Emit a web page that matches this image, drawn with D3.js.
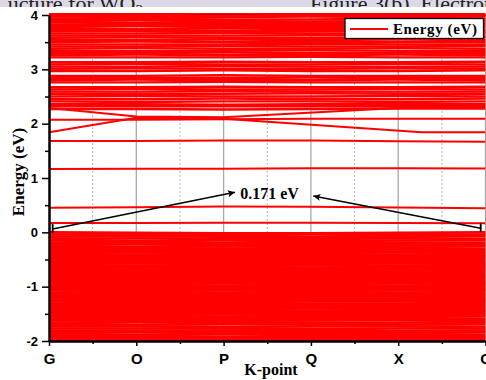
<!DOCTYPE html>
<html><head><meta charset="utf-8">
<script src="https://cdn.jsdelivr.net/npm/d3@7"></script>
<style>body{margin:0;background:#fff;} svg{display:block;}</style>
</head><body>
<svg id="chart" width="486" height="380"></svg>
<script>
// ---------------- data ----------------
const kLabels = ["G","O","P","Q","X","G"];
const kTicks = [0,1,2,3,4,5];
const kMinorTicks = [0.5,1.5,2.5,3.5,4.5];
const kSolidGrid = [1,2,3,4,5];
const yTicks = [-2,-1,0,1,2,3,4];
const yMinorTicks = [-1.5,-0.5,0.5,1.5,2.5,3.5];

// valence bands: energy (eV) at G,O,P,Q,X,G
const valenceBands = [
[0.00,-0.01,-0.02,-0.02,-0.01,0.00],
[-0.04,-0.04,-0.05,-0.04,-0.05,-0.04],
[-0.08,-0.07,-0.08,-0.09,-0.08,-0.07],
[-0.12,-0.11,-0.12,-0.12,-0.11,-0.12],
[-0.15,-0.16,-0.15,-0.16,-0.15,-0.15],
[-0.19,-0.19,-0.20,-0.19,-0.19,-0.20],
[-0.23,-0.22,-0.23,-0.23,-0.24,-0.23],
[-0.27,-0.27,-0.26,-0.27,-0.27,-0.26],
[-0.31,-0.30,-0.30,-0.31,-0.30,-0.31],
[-0.34,-0.34,-0.35,-0.34,-0.34,-0.34],
[-0.38,-0.37,-0.38,-0.38,-0.37,-0.38],
[-0.41,-0.41,-0.41,-0.42,-0.41,-0.41],
[-0.44,-0.45,-0.44,-0.44,-0.45,-0.44],
[-0.48,-0.48,-0.47,-0.48,-0.48,-0.47],
[-0.51,-0.51,-0.51,-0.51,-0.51,-0.51],
[-0.54,-0.54,-0.55,-0.54,-0.54,-0.55],
[-0.58,-0.57,-0.58,-0.58,-0.57,-0.58],
[-0.61,-0.61,-0.61,-0.61,-0.61,-0.61],
[-0.64,-0.64,-0.64,-0.65,-0.64,-0.64],
[-0.67,-0.68,-0.67,-0.68,-0.68,-0.67],
[-0.71,-0.71,-0.71,-0.71,-0.71,-0.71],
[-0.74,-0.74,-0.74,-0.74,-0.75,-0.74],
[-0.77,-0.78,-0.77,-0.78,-0.78,-0.78],
[-0.81,-0.81,-0.81,-0.81,-0.81,-0.81],
[-0.84,-0.84,-0.84,-0.84,-0.84,-0.84],
[-0.87,-0.88,-0.87,-0.88,-0.87,-0.88],
[-0.91,-0.91,-0.91,-0.91,-0.91,-0.91],
[-0.94,-0.94,-0.94,-0.94,-0.94,-0.94],
[-0.97,-0.97,-0.98,-0.97,-0.98,-0.97],
[-1.01,-1.01,-1.01,-1.01,-1.01,-1.01],
[-1.04,-1.04,-1.04,-1.04,-1.04,-1.04],
[-1.07,-1.07,-1.07,-1.08,-1.07,-1.07],
[-1.11,-1.10,-1.11,-1.11,-1.11,-1.10],
[-1.14,-1.14,-1.14,-1.14,-1.14,-1.14],
[-1.17,-1.17,-1.17,-1.17,-1.17,-1.17],
[-1.21,-1.20,-1.21,-1.20,-1.21,-1.21],
[-1.24,-1.24,-1.24,-1.24,-1.24,-1.24],
[-1.27,-1.27,-1.27,-1.27,-1.27,-1.27],
[-1.31,-1.30,-1.30,-1.31,-1.31,-1.30],
[-1.34,-1.34,-1.34,-1.34,-1.34,-1.34],
[-1.37,-1.37,-1.38,-1.37,-1.37,-1.37],
[-1.41,-1.41,-1.41,-1.40,-1.41,-1.41],
[-1.44,-1.44,-1.44,-1.44,-1.44,-1.44],
[-1.47,-1.47,-1.47,-1.48,-1.47,-1.47],
[-1.51,-1.51,-1.51,-1.51,-1.51,-1.51],
[-1.54,-1.54,-1.55,-1.54,-1.54,-1.54],
[-1.58,-1.58,-1.58,-1.58,-1.58,-1.59],
[-1.62,-1.61,-1.62,-1.62,-1.61,-1.62],
[-1.66,-1.65,-1.65,-1.66,-1.66,-1.65],
[-1.69,-1.70,-1.69,-1.69,-1.70,-1.69],
[-1.73,-1.73,-1.74,-1.73,-1.73,-1.74],
[-1.77,-1.77,-1.77,-1.78,-1.77,-1.77],
[-1.81,-1.81,-1.81,-1.81,-1.82,-1.81],
[-1.85,-1.84,-1.85,-1.85,-1.85,-1.84],
[-1.89,-1.89,-1.88,-1.89,-1.89,-1.89],
[-1.93,-1.92,-1.93,-1.93,-1.92,-1.93],
[-1.96,-1.97,-1.96,-1.96,-1.97,-1.96],
[-2.00,-2.00,-2.00,-2.00,-2.00,-2.00],
[-2.03,-2.03,-2.03,-2.03,-2.03,-2.03]
];

// isolated conduction bands in the gap region: energy at G,O,P,Q,X,G
const lowConductionBands = [
[0.171,0.170,0.178,0.178,0.170,0.165],
[0.453,0.460,0.475,0.470,0.455,0.445],
[1.165,1.168,1.172,1.178,1.178,1.175],
[1.680,1.680,1.690,1.690,1.675,1.665],
[2.070,2.070,2.080,2.090,2.090,2.090]
];

// dispersive bands: [k, energy] pairs
const crossingBandA = [[0,1.84],[1,2.11],[2,2.09],[4.27,1.84],[5,1.84]];
const crossingBandB = [[0,2.29],[1,2.13],[2,2.12],[4,2.29],[5,2.29]];

// upper dense conduction bands: energy at G,O,P,Q,X,G
const upperBands = [
[4.04,4.04,4.04,4.04,4.04,4.04],
[4.00,4.00,3.99,4.00,4.00,4.00],
[3.97,3.96,3.96,3.97,3.96,3.97],
[3.93,3.93,3.92,3.92,3.93,3.93],
[3.89,3.90,3.89,3.88,3.89,3.90],
[3.86,3.85,3.85,3.85,3.86,3.85],
[3.82,3.82,3.81,3.82,3.81,3.82],
[3.78,3.79,3.78,3.78,3.77,3.78],
[3.74,3.74,3.75,3.74,3.74,3.73],
[3.70,3.71,3.70,3.70,3.71,3.70],
[3.66,3.66,3.67,3.66,3.66,3.66],
[3.62,3.62,3.62,3.63,3.62,3.62],
[3.58,3.59,3.58,3.58,3.58,3.59],
[3.54,3.54,3.55,3.54,3.55,3.54],
[3.50,3.51,3.50,3.50,3.50,3.50],
[3.46,3.46,3.46,3.47,3.46,3.46],
[3.42,3.42,3.43,3.42,3.42,3.43],
[3.38,3.39,3.38,3.38,3.39,3.38],
[3.34,3.34,3.34,3.35,3.34,3.34],
[3.30,3.30,3.31,3.30,3.30,3.30],
[3.26,3.27,3.26,3.26,3.27,3.26],
[3.22,3.22,3.22,3.23,3.22,3.22],
[3.13,3.13,3.14,3.13,3.13,3.14],
[3.09,3.10,3.09,3.09,3.10,3.09],
[3.05,3.05,3.06,3.05,3.05,3.05],
[3.01,3.02,3.01,3.01,3.02,3.01],
[2.97,2.97,2.98,2.97,2.97,2.98],
[2.88,2.88,2.89,2.88,2.88,2.88],
[2.84,2.84,2.84,2.85,2.84,2.84],
[2.80,2.81,2.80,2.80,2.81,2.80],
[2.76,2.76,2.77,2.76,2.76,2.76],
[2.67,2.67,2.68,2.67,2.67,2.68],
[2.63,2.64,2.63,2.63,2.64,2.63],
[2.59,2.59,2.60,2.59,2.59,2.59],
[2.55,2.55,2.55,2.56,2.55,2.55],
[2.50,2.51,2.50,2.50,2.51,2.50],
[2.45,2.45,2.46,2.45,2.45,2.46],
[2.41,2.40,2.41,2.41,2.40,2.41],
[2.36,2.36,2.35,2.36,2.36,2.36],
[2.32,2.32,2.32,2.32,2.32,2.33],
[2.27,2.27,2.26,2.27,2.28,2.28]
];

// annotation (k, energy)
const gapText = "0.171 eV";
const gapTextPos = [2.19, 0.61];
const arrowLeft = [[0.042, 0.06], [2.13, 0.736]];
const arrowRight = [[4.945, 0.077], [3.028, 0.668]];
const legendLabel = "Energy (eV)";

// ---------------- drawing ----------------
const svg = d3.select("#chart");
const x = d3.scaleLinear().domain([0,5]).range([49, 485.5]);
const y = d3.scaleLinear().domain([-2,4]).range([341, 15]);
const serif = "'Liberation Serif','Times New Roman',serif";
const sans = "'Liberation Sans',Arial,sans-serif";

const defs = svg.append("defs");
defs.append("clipPath").attr("id","bannerClip").append("rect")
  .attr("x",0).attr("y",0).attr("width",486).attr("height",7);
defs.append("clipPath").attr("id","plotClip").append("rect")
  .attr("x",x(0)).attr("y",13).attr("width",x(5)-x(0)).attr("height",y(-2)-13);
defs.append("marker").attr("id","arrowHead").attr("viewBox","0 0 10 10")
  .attr("refX",10).attr("refY",5).attr("markerWidth",9).attr("markerHeight",7)
  .attr("markerUnits","userSpaceOnUse").attr("orient","auto")
  .append("path").attr("d","M0,0 L10,5 L0,10 L2,5 Z").attr("fill","#000");

// top banner (cropped page text)
const banner = svg.append("g").attr("clip-path","url(#bannerClip)");
banner.append("rect").attr("x",0).attr("y",0).attr("width",486).attr("height",7).attr("fill","#dcd8e7");
const t1 = banner.append("text").attr("x",143).attr("y",10.5).attr("text-anchor","end")
  .style("font-family",serif).style("font-size","22px").attr("fill","#222");
t1.append("tspan").text("ucture for WO");
t1.append("tspan").attr("font-size","15px").attr("dy",4).text("3");
banner.append("text").attr("x",310).attr("y",10.5)
  .style("font-family",serif).style("font-size","22px").attr("fill","#222")
  .text("Figure 3(b). Electronic");

// gridlines
svg.append("g").selectAll("line").data(kMinorTicks).join("line")
  .attr("x1",d=>x(d)).attr("x2",d=>x(d)).attr("y1",y(4)).attr("y2",y(-2))
  .attr("stroke","#b8b8b8").attr("stroke-width",1).attr("stroke-dasharray","2,2");
svg.append("g").selectAll("line").data(kSolidGrid).join("line")
  .attr("x1",d=>x(d)).attr("x2",d=>x(d)).attr("y1",y(4)).attr("y2",y(-2))
  .attr("stroke","#a8a8a8").attr("stroke-width",1.3);

// top frame
svg.append("line").attr("x1",x(0)).attr("x2",x(5)).attr("y1",y(4)).attr("y2",y(4))
  .attr("stroke","#000").attr("stroke-width",2);

// bands
const line6 = d3.line().x((d,i)=>x(kTicks[i])).y(d=>y(d));
const linePairs = d3.line().x(d=>x(d[0])).y(d=>y(d[1]));
const bandsG = svg.append("g").attr("clip-path","url(#plotClip)").attr("fill","none").attr("stroke","#ff0000");
bandsG.append("g").attr("stroke-width",2.7).selectAll("path").data(valenceBands).join("path").attr("d",line6);
bandsG.append("g").attr("stroke-width",2.4).selectAll("path").data(upperBands).join("path").attr("d",line6);
bandsG.append("g").attr("stroke-width",2).selectAll("path").data(lowConductionBands).join("path").attr("d",line6);
bandsG.append("g").attr("stroke-width",2).selectAll("path").data([crossingBandA, crossingBandB]).join("path").attr("d",linePairs);

// axes
const fmt = d => String(d);
const yAxis = svg.append("g").attr("transform",`translate(${x(0)},0)`)
  .call(d3.axisLeft(y).tickValues(yTicks).tickFormat(fmt).tickSize(7).tickSizeOuter(0).tickPadding(4));
const yMinor = svg.append("g").attr("transform",`translate(${x(0)},0)`)
  .call(d3.axisLeft(y).tickValues(yMinorTicks).tickFormat("").tickSize(4).tickSizeOuter(0));
const xAxis = svg.append("g").attr("transform",`translate(0,${y(-2)})`)
  .call(d3.axisBottom(x).tickValues(kTicks).tickFormat((d,i)=>kLabels[i]).tickSize(5).tickSizeOuter(0).tickPadding(7));
const xMinor = svg.append("g").attr("transform",`translate(0,${y(-2)})`)
  .call(d3.axisBottom(x).tickValues(kMinorTicks).tickFormat("").tickSize(3).tickSizeOuter(0));
[yAxis,yMinor,xAxis,xMinor].forEach(a=>{
  a.select(".domain").attr("stroke","#000").attr("stroke-width",2);
  a.selectAll(".tick line").attr("stroke","#000").attr("stroke-width",1.5);
});
yAxis.selectAll(".tick text").style("font-family",sans).style("font-size","13px").style("font-weight","bold").attr("fill","#000");
xAxis.selectAll(".tick text").style("font-family",sans).style("font-size","15px").style("font-weight","bold").attr("fill","#000");

// legend
const lg = svg.append("g");
lg.append("rect").attr("x",345).attr("y",18.5).attr("width",138.5).attr("height",20)
  .attr("fill","#fff").attr("stroke","#000").attr("stroke-width",1.3);
lg.append("line").attr("x1",350).attr("x2",388).attr("y1",29).attr("y2",29)
  .attr("stroke","#ff0000").attr("stroke-width",2);
lg.append("text").attr("x",393).attr("y",33.5).text(legendLabel)
  .style("font-family",serif).style("font-size","15px").style("font-weight","bold")
  .style("letter-spacing","0.6px").attr("fill","#000");

// annotation
const ann = svg.append("g");
[arrowLeft, arrowRight].forEach(a=>{
  ann.append("line").attr("x1",x(a[0][0])).attr("y1",y(a[0][1])).attr("x2",x(a[1][0])).attr("y2",y(a[1][1]))
    .attr("stroke","#000").attr("stroke-width",1.5).attr("marker-end","url(#arrowHead)");
  ann.append("line").attr("x1",x(a[0][0])).attr("x2",x(a[0][0]))
    .attr("y1",y(a[0][1])-5).attr("y2",y(a[0][1])+4).attr("stroke","#000").attr("stroke-width",1.8);
});
ann.append("text").attr("x",x(gapTextPos[0])).attr("y",y(gapTextPos[1])).text(gapText)
  .style("font-family",serif).style("font-size","16px").style("font-weight","bold").attr("fill","#000");

// axis titles
svg.append("text").attr("x",271).attr("y",375).attr("text-anchor","middle").text("K-point")
  .style("font-family",serif).style("font-size","16px").style("font-weight","bold").attr("fill","#000");
svg.append("text").attr("transform","translate(24,172) rotate(-90)").attr("text-anchor","middle").text("Energy (eV)")
  .style("font-family",serif).style("font-size","17px").style("font-weight","bold").attr("fill","#000");
</script>
</body></html>
